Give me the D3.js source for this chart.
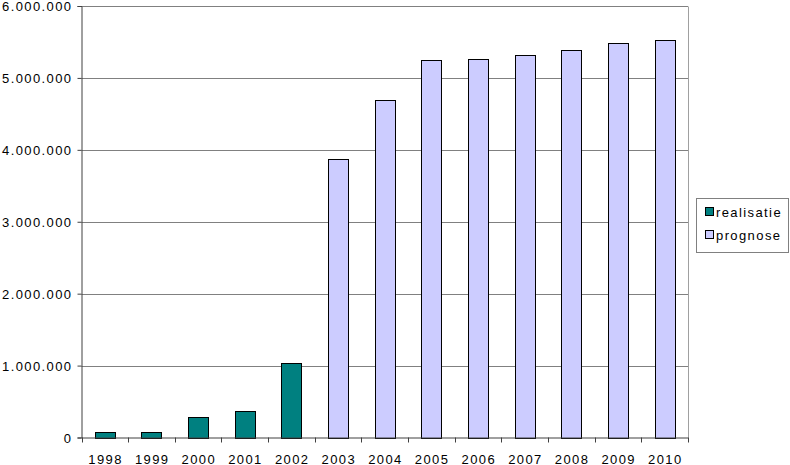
<!DOCTYPE html>
<html>
<head>
<meta charset="utf-8">
<script src="https://cdn.jsdelivr.net/npm/d3@7"></script>
<style>
  html, body { margin: 0; padding: 0; background: #fff; }
  svg text { font-family: "Liberation Sans", Arial, sans-serif; font-size: 13px; letter-spacing: 1.4px; fill: #000; }
</style>
</head>
<body>
<svg id="chart" width="790" height="465"></svg>
<script>
const years = ["1998","1999","2000","2001","2002","2003","2004","2005","2006","2007","2008","2009","2010"];
const realisatie = [80000, 80000, 287000, 366000, 1033000, null, null, null, null, null, null, null, null];
const prognose = [null, null, null, null, null, 3866000, 4695000, 5252000, 5266000, 5313000, 5391000, 5480000, 5526000];
const yTicks = [0, 1000000, 2000000, 3000000, 4000000, 5000000, 6000000];
const seriesNames = ["realisatie", "prognose"];
const seriesColors = ["#008080", "#CCCCFF"];

const svg = d3.select("#chart");
const pLeft = 81.5, pRight = 688, pTop = 6, pBottom = 437.5;

const x = d3.scaleBand().domain(years).range([pLeft, pRight]).padding(0);
const y = d3.scaleLinear().domain([0, 6000000]).range([pBottom, pTop]);
const barW = x.bandwidth() * 0.43;

const loc = d3.formatLocale({decimal: ",", thousands: ".", grouping: [3], currency: ["", ""]});
const fmt = loc.format(",");

// gridlines
svg.append("g").selectAll("line").data(yTicks.filter(d => d > 0)).join("line")
  .attr("x1", pLeft).attr("x2", pRight)
  .attr("y1", d => Math.round(y(d)) + 0.5).attr("y2", d => Math.round(y(d)) + 0.5)
  .attr("stroke", "#808080").attr("stroke-width", 1);

// right border
svg.append("line").attr("x1", pRight + 0.5).attr("x2", pRight + 0.5)
  .attr("y1", Math.round(y(6000000)) + 0.5).attr("y2", pBottom)
  .attr("stroke", "#a0a0a0");

// bars
const seriesData = [realisatie, prognose];
seriesData.forEach((vals, si) => {
  svg.append("g").selectAll("rect")
    .data(years.map((yr, i) => ({yr, v: vals[i]})).filter(d => d.v != null))
    .join("rect")
    .attr("x", d => Math.round(x(d.yr) + (x.bandwidth() - barW) / 2) + 0.5)
    .attr("width", Math.round(barW))
    .attr("y", d => Math.round(y(d.v)) + 0.5)
    .attr("height", d => Math.round(pBottom) - Math.round(y(d.v)))
    .attr("fill", seriesColors[si])
    .attr("stroke", "#000").attr("stroke-width", 1);
});

// y axis
const yAxis = d3.axisLeft(y).tickValues(yTicks).tickFormat(fmt).tickSize(4).tickPadding(6);
const gy = svg.append("g").attr("transform", `translate(${pLeft},0)`).call(yAxis);
gy.select(".domain").attr("stroke", "#404040");
gy.selectAll(".tick line").attr("stroke", "#404040");
gy.selectAll("text").attr("font-size", null).attr("font-family", null).attr("dy", "0.36em").attr("x", -9);

// x axis
const xAxis = d3.axisBottom(x).tickSize(0).tickPadding(0);
const gx = svg.append("g").attr("transform", `translate(0,${pBottom})`).call(xAxis);
gx.select(".domain").attr("stroke", "#404040");
gx.selectAll(".tick text").attr("font-size", null).attr("font-family", null).attr("y", 26).attr("dy", null).attr("dx", "0.7px");
// category boundary ticks
svg.append("g").selectAll("line").data(years.map(d => x(d)).concat([pRight])).join("line")
  .attr("x1", d => Math.round(d) + 0.5).attr("x2", d => Math.round(d) + 0.5)
  .attr("y1", pBottom).attr("y2", pBottom + 5)
  .attr("stroke", "#404040");

// legend
const lg = svg.append("g");
lg.append("rect").attr("x", 696.5).attr("y", 198.5).attr("width", 92).attr("height", 54)
  .attr("fill", "#fff").attr("stroke", "#808080");
seriesNames.forEach((n, i) => {
  const yy = 207.5 + i * 23;
  lg.append("rect").attr("x", 705.5).attr("y", yy).attr("width", 8).attr("height", 8)
    .attr("fill", seriesColors[i]).attr("stroke", "#000");
  lg.append("text").attr("x", 716).attr("y", yy + 9.5).text(n);
});
</script>
</body>
</html>
